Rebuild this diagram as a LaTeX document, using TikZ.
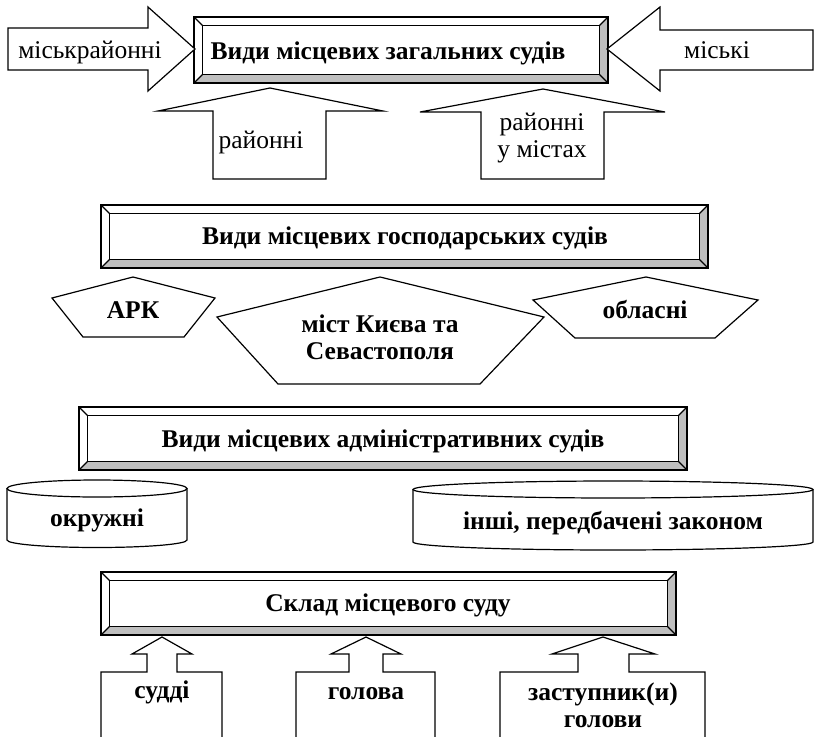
\documentclass[tikz,border=0pt]{standalone}
\usepackage{fontspec}
\setmainfont{Liberation Serif}
\definecolor{bevgray}{HTML}{BFBFBF}
\newcommand\bevbox[5]{%
  \node[inner sep=0pt, outer sep=0pt, minimum width={#4-#2}, minimum height={#5-#3}]
    (#1) at ({(#2+#4)/2},{(#3+#5)/2}) {};
  \fill[bevgray] (#1.north east) -- (#1.south east) -- (#1.south west)
    -- ([shift={(8.5pt,8.5pt)}]#1.south west) -- ([shift={(-8.5pt,8.5pt)}]#1.south east)
    -- ([shift={(-8.5pt,-8.5pt)}]#1.north east) -- cycle;
  \draw[ln] (#1.north west) rectangle (#1.south east);
  \draw[ln] ([shift={(8.5pt,-8.5pt)}]#1.north west) rectangle ([shift={(-8.5pt,8.5pt)}]#1.south east);
  \draw[ln] (#1.north west) -- ([shift={(8.5pt,-8.5pt)}]#1.north west);
  \draw[ln] (#1.north east) -- ([shift={(-8.5pt,-8.5pt)}]#1.north east);
  \draw[ln] (#1.south west) -- ([shift={(8.5pt,8.5pt)}]#1.south west);
  \draw[ln] (#1.south east) -- ([shift={(-8.5pt,8.5pt)}]#1.south east);
}
\begin{document}
\begin{tikzpicture}[x=1pt,y=-1pt,
  ln/.style={line width=1.2pt, line join=miter},
  shp/.style={ln, fill=white},
  lbl/.style={font=\fontsize{25.5}{27}\selectfont, inner sep=0pt, align=center},
  blbl/.style={font=\fontsize{25.5}{27}\selectfont\bfseries, inner sep=0pt, align=center}]
\useasboundingbox[fill=white] (0,0) rectangle (816,736);

% ---------- Section 1 ----------
\bevbox{g1}{194}{17}{608}{83}
\node[blbl] (g1t) at (388,53) {Види місцевих загальних судів};

\draw[shp] (8,28) -- (148,28) -- (148,7) -- (195,49) -- (148,91) -- (148,70) -- (8,70) -- cycle;
\node[lbl] (a1) at (90,52) {міськрайонні};

\draw[shp] (813,30) -- (660,30) -- (660,7) -- (607,49) -- (660,91) -- (660,70) -- (813,70) -- cycle;
\node[lbl] (a2) at (717,50) {міські};

\draw[shp] (270,88) -- (383,111) -- (326,111) -- (326,179) -- (213,179) -- (213,111) -- (158,111) -- cycle;
\node[lbl] (a3) at (261,142) {районні};

\draw[shp] (543,89) -- (665,112) -- (604,112) -- (604,179) -- (481,179) -- (481,112) -- (420,112) -- cycle;
\node[lbl] (a4) at (542,138) {районні\\у містах};

% ---------- Section 2 ----------
\bevbox{g2}{101}{205}{708}{268}
\node[blbl] (g2t) at (405,238) {Види місцевих господарських судів};

\draw[shp] (133,277) -- (215,298) -- (184,337) -- (83,337) -- (52,298) -- cycle;
\node[blbl] (p1) at (133,310) {АРК};

\draw[shp] (380,277) -- (544,317) -- (480,384) -- (278,384) -- (217,317) -- cycle;
\node[blbl] (p2) at (380,337) {міст Києва та\\Севастополя};

\draw[shp] (646,277) -- (758,300) -- (715,338) -- (575,338) -- (533,300) -- cycle;
\node[blbl] (p3) at (645,309) {обласні};

% ---------- Section 3 ----------
\bevbox{g3}{79}{407}{687}{470}
\node[blbl] (g3t) at (383,441) {Види місцевих адміністративних судів};

\draw[shp] (7,488.5) -- (7,540) arc[start angle=180, end angle=360, x radius=90pt, y radius=7.5pt] -- (187,488.5);
\draw[shp] (97,488.5) ellipse [x radius=90pt, y radius=8.5pt];
\node[blbl] (c1) at (97,520) {окружні};

\draw[shp] (413,489.5) -- (413,542) arc[start angle=180, end angle=360, x radius=200pt, y radius=8pt] -- (813,489.5);
\draw[shp] (613,489.5) ellipse [x radius=200pt, y radius=8.5pt];
\node[blbl] (c2) at (613,523) {інші, передбачені законом};

% ---------- Section 4 ----------
\bevbox{g4}{101}{572}{676}{635}
\node[blbl] (g4t) at (388,605) {Склад місцевого суду};

\draw[shp] (101,737) -- (101,672) -- (147,672) -- (147,654) -- (132,654) -- (162,637) -- (192,654) -- (177,654) -- (177,672) -- (222,672) -- (222,737);
\node[blbl] (s1) at (162,692) {судді};

\draw[shp] (296,737) -- (296,672) -- (349,672) -- (349,654) -- (331,654) -- (366,637) -- (401,654) -- (383,654) -- (383,672) -- (435,672) -- (435,737);
\node[blbl] (s2) at (366,693.5) {голова};

\draw[shp] (500,737) -- (500,672) -- (578,672) -- (578,654) -- (552,654) -- (603,637) -- (655,654) -- (629,654) -- (629,672) -- (705,672) -- (705,737);
\node[blbl] (s3) at (603,705) {заступник(и)\\голови};
\end{tikzpicture}
\end{document}
